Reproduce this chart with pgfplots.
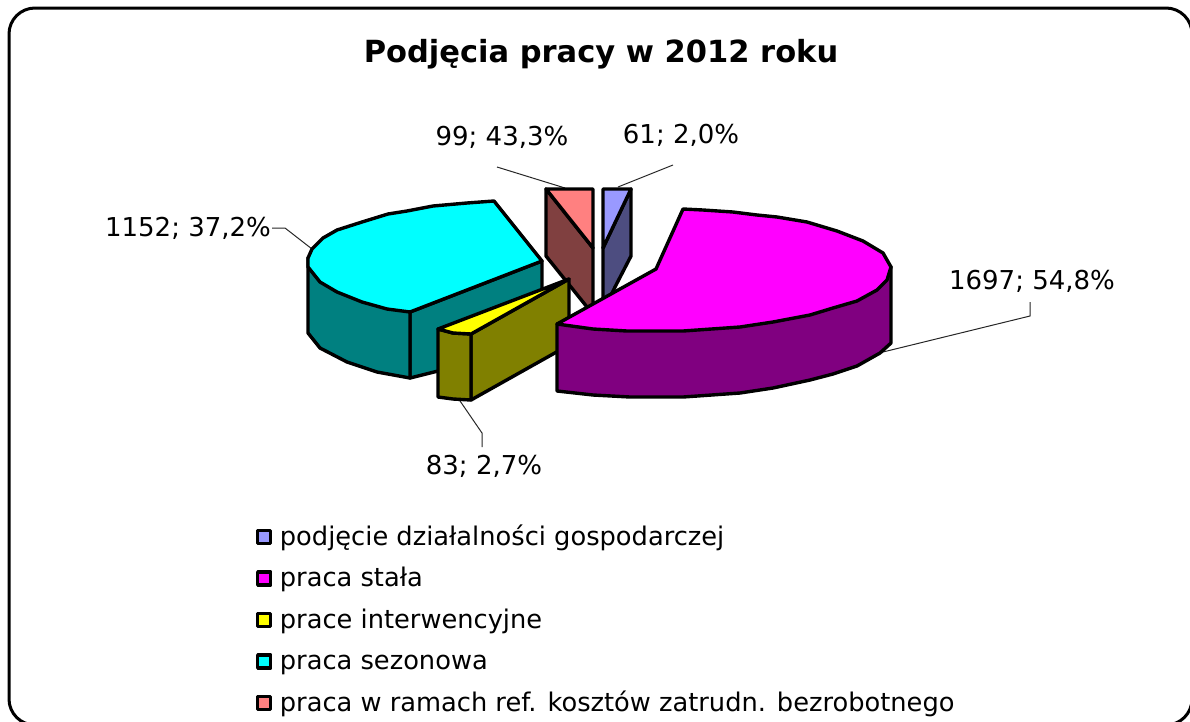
\documentclass[border=0pt]{standalone}
\usepackage{fontspec}
\setmainfont{DejaVu Sans}
\usepackage{pgfplots}
\pgfplotsset{compat=1.18}
\definecolor{cA}{HTML}{9999FF}\definecolor{cAd}{HTML}{4D4D80}
\definecolor{cB}{HTML}{FF00FF}\definecolor{cBd}{HTML}{800080}
\definecolor{cC}{HTML}{FFFF00}\definecolor{cCd}{HTML}{808000}
\definecolor{cD}{HTML}{00FFFF}\definecolor{cDd}{HTML}{008080}
\definecolor{cE}{HTML}{FF8080}\definecolor{cEd}{HTML}{804040}
\tikzset{txt/.style={font=\fontsize{26}{30}\selectfont,inner sep=0pt}}
\pgfplotsset{pieface/.style={draw=black,line width=3.4pt,line join=round,forget plot},
  leader/.style={draw=black!85,line width=1pt,forget plot}}
\begin{document}
\begin{tikzpicture}[x=1pt,y=1pt]
\useasboundingbox (0pt,0pt) rectangle (1190pt,721pt);
\begin{axis}[
  at={(0pt,0pt)},anchor=south west,
  scale only axis,width=1190pt,height=721pt,
  xmin=0,xmax=1190,ymin=0,ymax=721,y dir=reverse,
  hide axis,no markers,
  legend style={at={(axis cs:256,526)},anchor=north west,draw=none,fill=none,
    font=\fontsize{25.7}{30}\selectfont,
    cells={anchor=west},row sep=16.5pt,inner sep=0pt,outer sep=0pt,
    nodes={text height=19pt,text depth=6pt,inner xsep=7.5pt,inner ysep=0pt}},
  legend image code/.code={\draw[#1,line width=3.4pt,line join=round] (1pt,-5pt) rectangle (14pt,8pt);},
]
% frame
\addplot[draw=black,line width=3pt,rounded corners=26pt,forget plot] coordinates {(9,725) (9,8) (1192,8) (1192,725)} -- cycle;
% leader lines
\addplot[leader] coordinates {(497,167) (565,188)};
\addplot[leader] coordinates {(618,187) (673,165)};
\addplot[leader] coordinates {(272,228) (285,228) (312,249)};
\addplot[leader] coordinates {(883,352) (1030,316) (1030,302)};
\addplot[leader] coordinates {(458,398) (482,433) (482,447)};
% blue
\addplot[pieface,fill=cAd] coordinates {(631,189) (603,248) (603,312) (615,287) (631,256)} -- cycle;
\addplot[pieface,fill=cA] coordinates {(603,189) (631,189) (603,248)} -- cycle;
% red
\addplot[pieface,fill=cEd] coordinates {(546,189) (593,248) (593,314) (587,307) (546,256)} -- cycle;
\addplot[pieface,fill=cE] coordinates {(546,189) (593,189) (593,248)} -- cycle;
% cyan
\addplot[pieface,fill=cDd] coordinates {(410,312) (542,261) (542,345) (410,378)} -- cycle;
\addplot[pieface,fill=cDd] coordinates {(308,258) (308,333) (320,348) (347,362) (377,372) (410,378) (410,312)} -- cycle;
\addplot[pieface,fill=cD] coordinates {(308,258) (312,249) (323,238) (337,230) (362,222) (388,214) (407,211) (433,206) (467,203) (494,201) (542,261) (410,312) (387,309) (362,302) (337,292) (320,282) (308,267)} -- cycle;
% olive and yellow
\addplot[pieface,fill=cCd] coordinates {(471,334) (569,279) (569,345) (471,400)} -- cycle;
\addplot[pieface,fill=cCd] coordinates {(438,329) (453,333) (471,334) (471,400) (453,399) (438,397)} -- cycle;
\addplot[pieface,fill=cC] coordinates {(438,329) (569,279) (471,334) (453,333)} -- cycle;
% magenta
\addplot[pieface,fill=cBd] coordinates {(891,267) (891,343) (880,353) (857,366) (833,374) (810,380) (773,388) (740,393) (683,397) (630,397) (593,395) (557,391) (557,324)} -- cycle;
\addplot[pieface,fill=cB] coordinates {(683,209) (703,210) (733,212) (757,215) (777,217) (807,222) (837,231) (863,241) (883,253) (891,267) (887,280) (877,290) (857,301) (833,308) (810,315) (773,322) (740,327) (683,331) (627,331) (593,329) (557,324) (656,269)} -- cycle;
% legend
\addlegendimage{draw=black,fill=cA}\addlegendentry{podjęcie działalności gospodarczej}
\addlegendimage{draw=black,fill=cB}\addlegendentry{praca stała}
\addlegendimage{draw=black,fill=cC}\addlegendentry{prace interwencyjne}
\addlegendimage{draw=black,fill=cD}\addlegendentry{praca sezonowa}
\addlegendimage{draw=black,fill=cE}\addlegendentry{praca w ramach ref. kosztów zatrudn. bezrobotnego}
% texts
\node[font=\fontsize{30.5}{38}\selectfont\bfseries,inner sep=0pt] at (axis cs:601,54) {Podjęcia pracy w 2012 roku};
\node[txt] at (axis cs:502,137) {99; 43,3\%};
\node[txt] at (axis cs:681,135) {61; 2,0\%};
\node[txt] at (axis cs:188,228) {1152; 37,2\%};
\node[txt] at (axis cs:1032,281) {1697; 54,8\%};
\node[txt] at (axis cs:484,466) {83; 2,7\%};
\end{axis}
\end{tikzpicture}
\end{document}
